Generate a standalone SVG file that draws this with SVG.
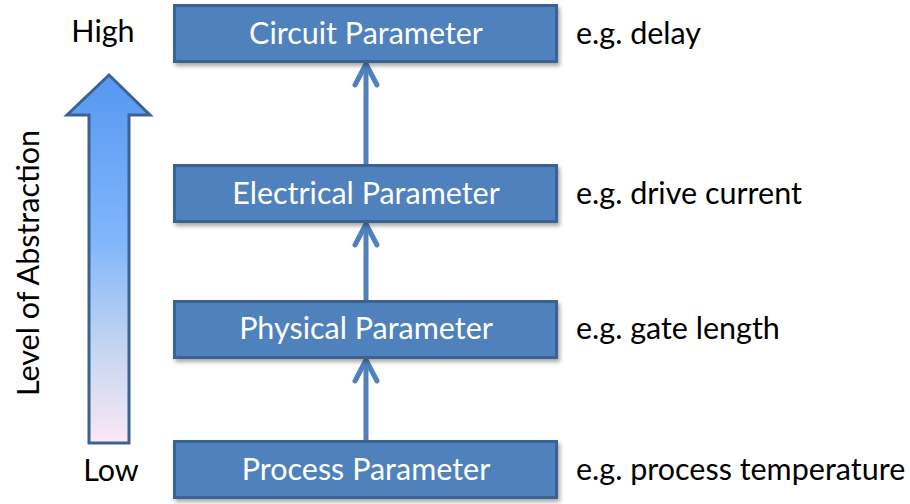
<svg xmlns="http://www.w3.org/2000/svg" width="910" height="504" viewBox="0 0 910 504">
  <style>
    .box { fill: #4f81bd; stroke: #3b6392; stroke-width: 3; }
    .boxtxt { font-family: "Lato", "Liberation Sans", sans-serif; font-size: 30.5px; fill: #ffffff; text-anchor: middle; }
    .note { font-family: "Lato", "Liberation Sans", sans-serif; font-size: 30.5px; fill: #000000; }
    .link { stroke: #4f81bd; stroke-width: 5; fill: none; }
    .head { stroke: #4f81bd; stroke-width: 5; fill: none; stroke-linecap: round; stroke-linejoin: miter; }
  </style>
  <defs>
    <linearGradient id="abstraction" x1="0" y1="0" x2="0" y2="1">
      <stop offset="0" stop-color="#5797f2"/>
      <stop offset="0.45" stop-color="#80b6fb"/>
      <stop offset="0.75" stop-color="#c6d6f0"/>
      <stop offset="1" stop-color="#fbe8f6"/>
    </linearGradient>
    <filter id="shadow" x="-5%" y="-20%" width="110%" height="150%">
      <feGaussianBlur in="SourceAlpha" stdDeviation="2"/>
      <feOffset dx="2" dy="3" result="b"/>
      <feComponentTransfer><feFuncA type="linear" slope="0.35"/></feComponentTransfer>
      <feMerge><feMergeNode/><feMergeNode in="SourceGraphic"/></feMerge>
    </filter>
  </defs>

  <!-- abstraction scale -->
  <g id="scale">
    <path d="M109,75 L150,115 L129,115 L129,443 L89,443 L89,115 L67,115 Z" fill="url(#abstraction)" stroke="#3b6392" stroke-width="3" stroke-linejoin="miter"/>
    <text class="note" x="103" y="42" text-anchor="middle">High</text>
    <text class="note" x="111" y="481" text-anchor="middle">Low</text>
    <text class="note" transform="translate(39,263) rotate(-90)" text-anchor="middle">Level of Abstraction</text>
  </g>

  <!-- connectors -->
  <g id="connectors">
    <line class="link" x1="366" y1="441" x2="366" y2="360"/>
    <polyline class="head" points="355,381 366,360 377,381"/>
    <line class="link" x1="366" y1="300" x2="366" y2="224"/>
    <polyline class="head" points="355,245 366,224 377,245"/>
    <line class="link" x1="366" y1="164" x2="366" y2="64"/>
    <polyline class="head" points="355,85 366,64 377,85"/>
  </g>

  <g id="circuit">
    <rect class="box" x="174.5" y="5.5" width="382" height="56" filter="url(#shadow)"/>
    <text class="boxtxt" x="366" y="44">Circuit Parameter</text>
    <text class="note" x="576" y="44">e.g. delay</text>
  </g>
  <g id="electrical">
    <rect class="box" x="174.5" y="165.5" width="382" height="56" filter="url(#shadow)"/>
    <text class="boxtxt" x="366" y="204">Electrical Parameter</text>
    <text class="note" x="576" y="204">e.g. drive current</text>
  </g>
  <g id="physical">
    <rect class="box" x="174.5" y="301.5" width="382" height="56" filter="url(#shadow)"/>
    <text class="boxtxt" x="366" y="339">Physical Parameter</text>
    <text class="note" x="576" y="339">e.g. gate length</text>
  </g>
  <g id="process">
    <rect class="box" x="174.5" y="441.5" width="382" height="56" filter="url(#shadow)"/>
    <text class="boxtxt" x="366" y="480">Process Parameter</text>
    <text class="note" x="576" y="480">e.g. process temperature</text>
  </g>
</svg>
